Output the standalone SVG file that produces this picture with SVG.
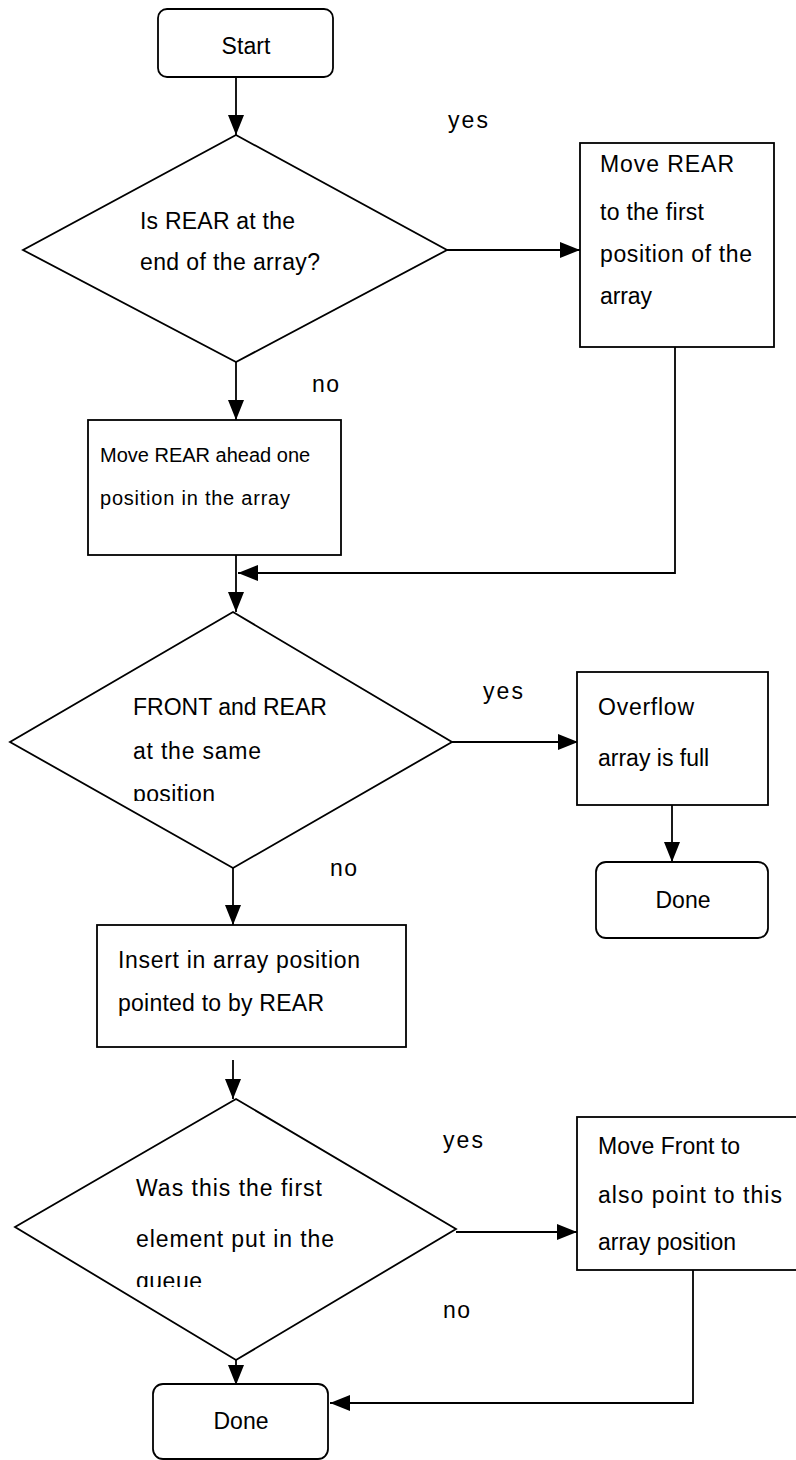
<svg xmlns="http://www.w3.org/2000/svg" width="796" height="1460" viewBox="0 0 796 1460">
  <style>
    .shape { fill: #fff; stroke: #000; stroke-width: 1.8; }
    .edge { fill: none; stroke: #000; stroke-width: 1.8; }
    .lbl { font-family: "Liberation Sans", Arial, sans-serif; font-size: 23px; fill: #000; }
    .sm { font-size: 20px; }
    .mid { text-anchor: middle; }
  </style>
  <defs>
    <marker id="arrow" markerUnits="userSpaceOnUse" markerWidth="20" markerHeight="16" refX="20" refY="8" orient="auto">
      <path d="M0,0 L20,8 L0,16 Z" fill="#000"/>
    </marker>
    <clipPath id="clip-d2"><rect x="0" y="600" width="460" height="201"/></clipPath>
    <clipPath id="clip-d3"><rect x="0" y="1090" width="460" height="197"/></clipPath>
  </defs>
  <rect width="796" height="1460" fill="#fff"/>

  <g id="connectors">
    <line class="edge" x1="236" y1="77" x2="236" y2="135" marker-end="url(#arrow)"/>
    <line class="edge" x1="447" y1="250" x2="580" y2="250" marker-end="url(#arrow)"/>
    <line class="edge" x1="236" y1="362" x2="236" y2="420" marker-end="url(#arrow)"/>
    <line class="edge" x1="236" y1="555" x2="236" y2="612" marker-end="url(#arrow)"/>
    <polyline class="edge" points="675,347 675,573 238,573" marker-end="url(#arrow)"/>
    <line class="edge" x1="452" y1="742" x2="578" y2="742" marker-end="url(#arrow)"/>
    <line class="edge" x1="672" y1="805" x2="672" y2="862" marker-end="url(#arrow)"/>
    <line class="edge" x1="233" y1="868" x2="233" y2="925" marker-end="url(#arrow)"/>
    <line class="edge" x1="233" y1="1060" x2="233" y2="1099" marker-end="url(#arrow)"/>
    <line class="edge" x1="456" y1="1232" x2="577" y2="1232" marker-end="url(#arrow)"/>
    <polyline class="edge" points="693,1270 693,1403 330,1403" marker-end="url(#arrow)"/>
    <line class="edge" x1="236" y1="1360" x2="236" y2="1385" marker-end="url(#arrow)"/>
  </g>

  <g id="edge-labels">
    <text class="lbl" x="448" y="128" textLength="40">yes</text>
    <text class="lbl" x="312" y="392" textLength="27">no</text>
    <text class="lbl" x="483" y="699" textLength="40">yes</text>
    <text class="lbl" x="330" y="876" textLength="27">no</text>
    <text class="lbl" x="443" y="1148" textLength="40">yes</text>
    <text class="lbl" x="443" y="1318" textLength="27">no</text>
  </g>

  <g id="start">
    <rect class="shape" x="158" y="9" width="175" height="68" rx="9"/>
    <text class="lbl mid" x="246" y="54" textLength="49">Start</text>
  </g>

  <g id="rear-at-end">
    <polygon class="shape" points="236,135 447,250 236,362 23,250"/>
    <text class="lbl" x="140" y="229" textLength="155">Is REAR at the</text>
    <text class="lbl" x="140" y="270" textLength="180">end of the array?</text>
  </g>

  <g id="wrap-rear">
    <rect class="shape" x="580" y="143" width="194" height="204"/>
    <text class="lbl" x="600" y="172" textLength="134">Move REAR</text>
    <text class="lbl" x="600" y="220" textLength="104">to the first</text>
    <text class="lbl" x="600" y="262" textLength="152">position of the</text>
    <text class="lbl" x="600" y="304" textLength="52">array</text>
  </g>

  <g id="advance-rear">
    <rect class="shape" x="88" y="420" width="253" height="135"/>
    <text class="lbl sm" x="100" y="462">Move REAR ahead one</text>
    <text class="lbl sm" x="100" y="505" textLength="190">position in the array</text>
  </g>

  <g id="front-equals-rear">
    <polygon class="shape" points="233,612 452,742 233,868 10,742"/>
    <text class="lbl" x="133" y="715">FRONT and REAR</text>
    <text class="lbl" x="133" y="759" textLength="128">at the same</text>
    <text class="lbl" x="133" y="802" textLength="82" clip-path="url(#clip-d2)">position</text>
  </g>

  <g id="overflow">
    <rect class="shape" x="577" y="672" width="191" height="133"/>
    <text class="lbl" x="598" y="715" textLength="96">Overflow</text>
    <text class="lbl" x="598" y="766">array is full</text>
  </g>

  <g id="done-overflow">
    <rect class="shape" x="596" y="862" width="172" height="76" rx="10"/>
    <text class="lbl mid" x="683" y="908">Done</text>
  </g>

  <g id="insert">
    <rect class="shape" x="97" y="925" width="309" height="122"/>
    <text class="lbl" x="118" y="968" textLength="242">Insert in array position</text>
    <text class="lbl" x="118" y="1011" textLength="206">pointed to by REAR</text>
  </g>

  <g id="first-element">
    <polygon class="shape" points="236,1099 456,1229 236,1360 15,1227"/>
    <text class="lbl" x="136" y="1196" textLength="186">Was this the first</text>
    <text class="lbl" x="136" y="1247" textLength="198">element put in the</text>
    <text class="lbl" x="136" y="1289" textLength="66" clip-path="url(#clip-d3)">queue</text>
  </g>

  <g id="move-front">
    <rect class="shape" x="577" y="1117" width="230" height="153"/>
    <text class="lbl" x="598" y="1154" textLength="142">Move Front to</text>
    <text class="lbl" x="598" y="1203" textLength="184">also point to this</text>
    <text class="lbl" x="598" y="1250">array position</text>
  </g>

  <g id="done">
    <rect class="shape" x="153" y="1384" width="175" height="75" rx="10"/>
    <text class="lbl mid" x="241" y="1429">Done</text>
  </g>
</svg>
